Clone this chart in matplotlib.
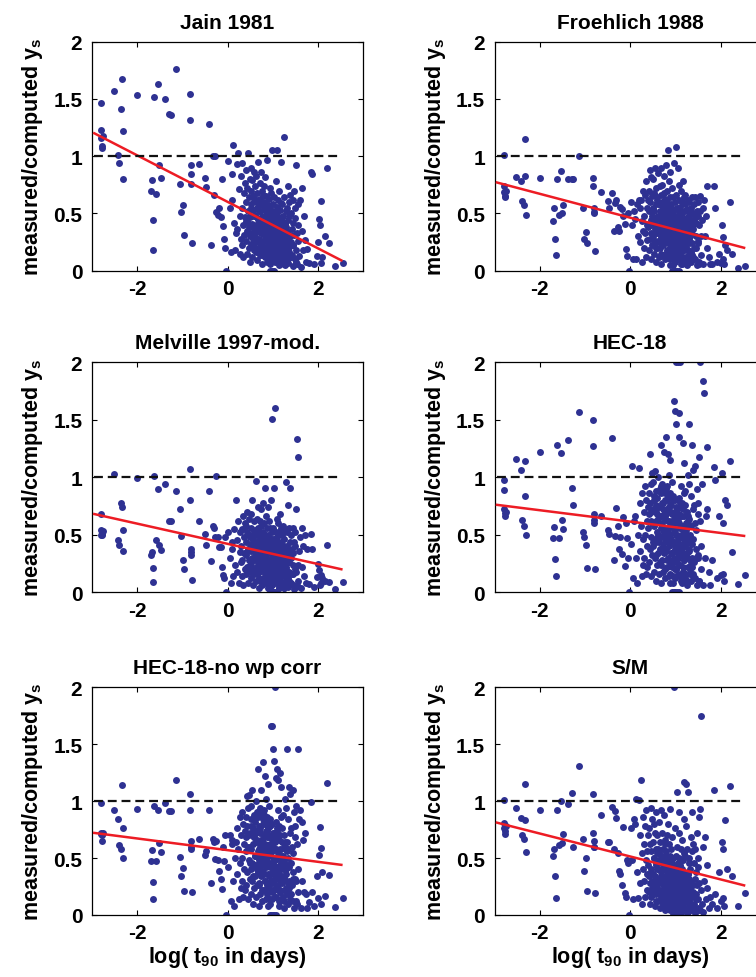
import matplotlib
matplotlib.use('Agg')
import matplotlib.pyplot as plt

plt.rcParams['font.family'] = ['Liberation Sans', 'DejaVu Sans']
plt.rcParams['font.weight'] = 'bold'
plt.rcParams['mathtext.fontset'] = 'custom'
plt.rcParams['mathtext.rm'] = 'Liberation Sans:bold'
plt.rcParams['mathtext.it'] = 'Liberation Sans:bold'
plt.rcParams['mathtext.bf'] = 'Liberation Sans:bold'
plt.rcParams['mathtext.default'] = 'rm'
plt.rcParams['axes.unicode_minus'] = False

# log(t90) values, shared by all six panels
x_left = [-2.80, -2.80, -2.79, -2.78, -2.77, -2.76, -2.52, -2.42, -2.40, -2.35, -2.33, -2.32, -2.31,
          -2.00, -1.70, -1.68, -1.66, -1.64, -1.62, -1.58, -1.54, -1.52, -1.48, -1.38, -1.30, -1.26,
          -1.13, -1.05, -1.02, -0.98, -0.96, -0.82, -0.82, -0.81, -0.80, -0.80, -0.79, -0.64, -0.50,
          -0.48, -0.40, -0.37, -0.33, -0.31, -0.28, -0.25, -0.22, -0.18, -0.15, -0.12, -0.10, -0.08,
          -0.05, -0.03]
x_dense = [0.02, 0.05, 0.07, 0.09,
           0.11, 0.13, 0.15, 0.17, 0.19,
           0.21, 0.22, 0.24, 0.25, 0.27, 0.28, 0.29,
           0.30, 0.31, 0.32, 0.33, 0.34, 0.35, 0.36, 0.37, 0.38, 0.39,
           0.40, 0.41, 0.41, 0.42, 0.43, 0.44, 0.44, 0.45, 0.46, 0.47, 0.47, 0.48, 0.49, 0.49,
           0.50, 0.51, 0.51, 0.52, 0.53, 0.53, 0.54, 0.55, 0.55, 0.56, 0.57, 0.57, 0.58, 0.58, 0.59, 0.59,
           0.60, 0.60, 0.61, 0.62, 0.62, 0.63, 0.64, 0.64, 0.65, 0.65, 0.66, 0.67, 0.67, 0.68, 0.68, 0.69, 0.69,
           0.70, 0.70, 0.71, 0.71, 0.72, 0.73, 0.73, 0.74, 0.74, 0.75, 0.75, 0.76, 0.77, 0.77, 0.78, 0.78, 0.79, 0.79,
           0.80, 0.80, 0.81, 0.81, 0.82, 0.82, 0.83, 0.83, 0.84, 0.84, 0.85, 0.85, 0.86, 0.86, 0.87, 0.87, 0.88, 0.89, 0.89,
           0.90, 0.90, 0.91, 0.91, 0.92, 0.92, 0.93, 0.93, 0.94, 0.94, 0.95, 0.95, 0.96, 0.96, 0.97, 0.97, 0.98, 0.98, 0.99, 0.99,
           1.00, 1.00, 1.01, 1.01, 1.02, 1.02, 1.03, 1.03, 1.04, 1.04, 1.05, 1.05, 1.06, 1.06, 1.07, 1.07, 1.08, 1.08, 1.09, 1.09,
           1.10, 1.10, 1.11, 1.11, 1.12, 1.13, 1.13, 1.14, 1.14, 1.15, 1.15, 1.16, 1.17, 1.17, 1.18, 1.18, 1.19, 1.19,
           1.20, 1.20, 1.21, 1.22, 1.22, 1.23, 1.24, 1.24, 1.25, 1.26, 1.26, 1.27, 1.28, 1.28, 1.29, 1.29,
           1.30, 1.31, 1.31, 1.32, 1.33, 1.34, 1.34, 1.35, 1.36, 1.36, 1.37, 1.38, 1.39, 1.39,
           1.40, 1.41, 1.42, 1.43, 1.44, 1.44, 1.45, 1.46, 1.47, 1.48, 1.49, 1.49,
           1.50, 1.51, 1.52, 1.53, 1.54, 1.55, 1.56, 1.57, 1.58,
           1.60, 1.62, 1.64, 1.65, 1.67, 1.69,
           1.71, 1.74, 1.77]
x_right = [1.80, 1.85, 1.88, 1.92, 1.97, 2.00, 2.03, 2.05, 2.06, 2.08, 2.10, 2.15, 2.20, 2.25, 2.38, 2.55]
x_core = [0.46, 0.50, 0.53, 0.56, 0.58, 0.61, 0.63, 0.65, 0.67, 0.69,
          0.70, 0.72, 0.73, 0.75, 0.76, 0.78, 0.79, 0.81, 0.82, 0.83,
          0.84, 0.85, 0.86, 0.87, 0.88, 0.89, 0.90, 0.91, 0.92, 0.93,
          0.94, 0.95, 0.96, 0.97, 0.98, 0.99, 1.00, 1.01, 1.02, 1.03,
          1.04, 1.05, 1.06, 1.07, 1.08, 1.09, 1.10, 1.11, 1.12, 1.13,
          1.14, 1.15, 1.16, 1.17, 1.18, 1.19, 1.20, 1.21, 1.22, 1.23,
          1.24, 1.25, 1.26, 1.27, 1.28, 1.29, 1.30, 1.31, 1.32, 1.33,
          0.74, 0.80, 0.88, 0.93, 0.97, 1.02, 1.06, 1.11, 1.16, 1.25,
          0.68, 0.77, 0.85, 0.91, 0.99, 1.04, 1.13, 1.19, 1.28, 1.36,
          0.60, 0.71, 0.83, 0.95, 1.08, 1.21, 1.34, 1.40, 1.45, 1.52]
log_t90 = x_left + x_dense + x_right + x_core

# measured/computed ys for each method (left part, dense cloud, right part, core)
y_jain = [1.16, 1.46, 1.23, 1.09, 1.07, 1.18, 1.57, 1.01, 0.94, 1.41, 1.67, 1.22, 0.80,
          1.53, 0.70, 0.79, 0.44, 0.18, 1.52, 0.67, 1.63, 0.92, 0.81, 1.50, 1.37, 1.36,
          1.76, 0.76, 0.51, 0.57, 0.31, 1.54, 1.32, 0.92, 0.84, 0.76, 0.24, 0.93, 0.81,
          0.73, 1.28, 0.22, 1.00, 0.66, 1.00, 0.51, 0.49, 0.55, 0.47, 0.80, 0.39, 0.28, 0.20, 0.00,
          0.96, 0.55, 0.16, 0.84,
          0.62, 1.10, 0.42, 0.18, 0.33,
          0.93, 0.36, 1.03, 0.71, 0.15, 0.48, 0.28,
          0.83, 0.55, 0.22, 0.94, 0.40, 0.12, 0.68, 0.31, 0.77, 0.47,
          0.60, 0.26, 0.88, 0.43, 0.15, 0.72, 0.35, 1.03, 0.52, 0.20, 0.64, 0.38, 0.08, 0.80,
          0.47, 0.70, 0.23, 0.90, 0.33, 0.58, 0.12, 0.79, 0.41, 0.65, 0.28, 0.53, 0.18, 0.86, 0.37, 0.61,
          0.30, 0.74, 0.49, 0.16, 0.62, 0.40, 0.83, 0.25, 0.55, 0.09, 0.68, 0.35, 0.45, 0.95, 0.20, 0.58, 0.42,
          0.52, 0.28, 0.77, 0.38, 0.14, 0.63, 0.45, 0.86, 0.22, 0.57, 0.33, 0.70, 0.06, 0.48, 0.26, 0.66, 0.40, 0.18,
          0.36, 0.60, 0.21, 0.74, 0.44, 0.12, 0.53, 0.30, 0.82, 0.40, 0.17, 0.65, 0.27, 0.48, 0.97, 0.34, 0.08, 0.57, 0.24,
          0.42, 0.19, 0.63, 0.31, 0.50, 0.10, 0.72, 0.26, 0.00, 0.38, 0.55, 0.15, 0.45, 0.33, 0.68, 0.22, 0.00, 0.40, 1.05, 0.28,
          0.35, 0.00, 0.58, 0.20, 0.46, 0.13, 0.00, 0.30, 0.64, 0.40, 0.24, 0.52, 0.08, 0.36, 0.78, 0.18, 0.44, 0.27, 1.05, 0.56,
          0.29, 0.48, 0.14, 0.38, 0.62, 0.22, 0.05, 0.44, 0.33, 0.70, 0.18, 0.53, 0.26, 0.40, 0.10, 0.59, 0.35, 0.95,
          0.43, 0.20, 0.58, 0.31, 0.09, 0.48, 0.25, 1.17, 0.37, 0.15, 0.64, 0.28, 0.42, 0.05, 0.52, 0.33,
          0.38, 0.16, 0.55, 0.27, 0.44, 0.07, 0.74, 0.33, 0.21, 0.60, 0.48, 0.12, 0.30, 0.66,
          0.25, 0.50, 0.14, 0.36, 0.62, 0.04, 0.42, 0.22, 0.70, 0.31, 0.10, 0.55,
          0.46, 0.18, 0.92, 0.33, 0.06, 0.58, 0.26, 0.40, 0.13,
          0.62, 0.03, 0.35, 0.72, 0.18, 0.48,
          0.27, 0.08, 0.19,
          0.07, 0.86, 0.84, 0.06, 0.13, 0.25, 0.45, 0.40, 0.61, 0.07, 0.12, 0.30, 0.90, 0.24, 0.04, 0.07,
          0.42, 0.30, 0.55, 0.22, 0.48, 0.35, 0.60, 0.27, 0.45, 0.18,
          0.38, 0.52, 0.25, 0.44, 0.14, 0.58, 0.32, 0.47, 0.20, 0.36,
          0.55, 0.28, 0.41, 0.12, 0.50, 0.33, 0.24, 0.46, 0.16, 0.39,
          0.30, 0.52, 0.20, 0.42, 0.10, 0.36, 0.26, 0.48, 0.15, 0.34,
          0.44, 0.22, 0.30, 0.12, 0.40, 0.28, 0.50, 0.18, 0.34, 0.08,
          0.38, 0.24, 0.46, 0.14, 0.32, 0.20, 0.42, 0.10, 0.28, 0.36,
          0.18, 0.30, 0.06, 0.26, 0.40, 0.14, 0.22, 0.34, 0.10, 0.28,
          0.34, 0.58, 0.46, 0.22, 0.28, 0.16, 0.38, 0.24, 0.12, 0.20,
          0.62, 0.40, 0.30, 0.54, 0.18, 0.44, 0.32, 0.26, 0.40, 0.16,
          0.48, 0.26, 0.36, 0.06, 0.22, 0.30, 0.18, 0.12, 0.22, 0.08]

y_froehlich = [0.69, 1.01, 0.74, 0.65, 0.64, 0.70, 0.82, 0.78, 0.61, 0.57, 1.15, 0.83, 0.49,
               0.81, 0.43, 0.55, 0.28, 0.14, 0.80, 0.49, 0.87, 0.50, 0.57, 0.80, 0.80, 0.80,
               1.00, 0.55, 0.28, 0.34, 0.24, 0.81, 0.74, 0.55, 0.51, 0.50, 0.17, 0.69, 0.61,
               0.55, 0.68, 0.35, 0.59, 0.62, 0.38, 0.35, 0.56, 0.54, 0.48, 0.41, 0.19, 0.13, 0.50, 0.00,
               0.60, 0.40, 0.10, 0.52,
               0.45, 0.10, 0.58, 0.30, 0.62,
               0.55, 0.25, 0.62, 0.08, 0.43, 0.35, 0.70,
               0.48, 0.20, 0.66, 0.33, 0.12, 0.78, 0.40, 0.55, 0.27, 0.62,
               0.38, 0.70, 0.18, 0.52, 0.88, 0.28, 0.60, 0.44, 0.10, 0.82, 0.33, 0.65, 0.22, 0.48,
               0.55, 0.30, 0.80, 0.42, 0.15, 0.68, 0.36, 0.90, 0.24, 0.58, 0.46, 0.08, 0.72, 0.33, 0.62, 0.20,
               0.40, 0.64, 0.26, 0.85, 0.48, 0.12, 0.58, 0.34, 0.74, 0.20, 0.52, 0.44, 0.90, 0.29, 0.66, 0.06, 0.38,
               0.60, 0.22, 0.47, 0.75, 0.32, 0.14, 0.56, 0.40, 0.83, 0.26, 0.68, 0.36, 0.50, 0.10, 0.63, 0.44, 0.92, 0.30,
               0.28, 0.52, 0.70, 0.16, 0.42, 0.60, 0.34, 1.05, 0.24, 0.48, 0.78, 0.12, 0.56, 0.38, 0.64, 0.20, 0.45, 0.86, 0.05,
               0.35, 0.58, 0.18, 0.44, 0.72, 0.26, 0.00, 0.52, 0.32, 0.64, 0.10, 0.48, 0.94, 0.22, 0.40, 0.00, 0.60, 0.30, 0.54, 0.15,
               0.46, 0.00, 0.28, 0.66, 1.08, 0.38, 0.00, 0.20, 0.55, 0.34, 0.90, 0.12, 0.48, 0.26, 0.00, 0.62, 0.40, 0.18, 0.52, 0.75,
               0.32, 0.56, 0.14, 0.44, 0.70, 0.24, 0.38, 0.06, 0.60, 0.28, 0.50, 0.78, 0.18, 0.42, 0.34, 0.64, 0.10, 0.52,
               0.40, 0.22, 0.58, 0.30, 0.66, 0.12, 0.46, 0.36, 0.05, 0.54, 0.26, 0.62, 0.18, 0.44, 0.33, 0.50,
               0.28, 0.48, 0.60, 0.16, 0.38, 0.55, 0.08, 0.44, 0.24, 0.64, 0.32, 0.50, 0.12, 0.40,
               0.36, 0.58, 0.20, 0.46, 0.10, 0.64, 0.30, 0.42, 0.05, 0.52, 0.26, 0.48,
               0.60, 0.24, 0.40, 0.08, 0.52, 0.65, 0.30, 0.14, 0.44,
               0.55, 0.06, 0.62, 0.30, 0.48, 0.20,
               0.74, 0.12, 0.06,
               0.06, 0.74, 0.55, 0.08, 0.15, 0.07, 0.40, 0.29, 0.10, 0.06, 0.22, 0.18, 0.60, 0.15, 0.02, 0.04,
               0.40, 0.28, 0.52, 0.20, 0.45, 0.33, 0.58, 0.25, 0.42, 0.15,
               0.36, 0.50, 0.22, 0.44, 0.12, 0.55, 0.30, 0.46, 0.18, 0.34,
               0.52, 0.26, 0.40, 0.10, 0.48, 0.32, 0.22, 0.44, 0.14, 0.38,
               0.28, 0.50, 0.18, 0.40, 0.08, 0.34, 0.24, 0.46, 0.13, 0.32,
               0.42, 0.20, 0.30, 0.10, 0.38, 0.26, 0.48, 0.16, 0.35, 0.06,
               0.36, 0.22, 0.44, 0.12, 0.30, 0.18, 0.40, 0.08, 0.26, 0.34,
               0.20, 0.32, 0.06, 0.28, 0.42, 0.14, 0.24, 0.36, 0.10, 0.30,
               0.32, 0.55, 0.44, 0.20, 0.26, 0.14, 0.36, 0.22, 0.10, 0.18,
               0.58, 0.38, 0.28, 0.50, 0.16, 0.42, 0.30, 0.24, 0.38, 0.14,
               0.46, 0.24, 0.34, 0.05, 0.20, 0.28, 0.16, 0.10, 0.20, 0.06]

y_melville = [0.50, 0.68, 0.54, 0.51, 0.50, 0.53, 1.03, 0.45, 0.41, 0.78, 0.74, 0.54, 0.36,
              0.99, 0.32, 0.35, 0.21, 0.09, 1.01, 0.45, 0.90, 0.41, 0.37, 0.94, 0.62, 0.62,
              0.88, 0.72, 0.49, 0.28, 0.20, 1.07, 0.80, 0.38, 0.35, 0.32, 0.11, 0.62, 0.51,
              0.41, 0.88, 0.27, 0.58, 0.56, 0.48, 1.01, 0.48, 0.39, 0.39, 0.22, 0.15, 0.12, 0.48, 0.00,
              0.52, 0.30, 0.08, 0.44,
              0.38, 0.14, 0.55, 0.24, 0.80,
              0.45, 0.18, 0.62, 0.08, 0.35, 0.52, 0.26,
              0.40, 0.14, 0.55, 0.28, 0.06, 0.66, 0.34, 0.48, 0.20, 0.60,
              0.32, 0.58, 0.16, 0.44, 0.70, 0.22, 0.52, 0.38, 0.08, 0.64, 0.28, 0.50, 0.18, 0.42,
              0.48, 0.24, 0.68, 0.36, 0.12, 0.56, 0.30, 0.80, 0.20, 0.46, 0.40, 0.06, 0.62, 0.28, 0.52, 0.16,
              0.34, 0.54, 0.20, 0.97, 0.42, 0.10, 0.50, 0.28, 0.64, 0.16, 0.44, 0.36, 0.74, 0.24, 0.56, 0.04, 0.32,
              0.50, 0.18, 0.40, 0.62, 0.26, 0.10, 0.46, 0.34, 0.72, 0.22, 0.58, 0.30, 0.42, 0.06, 0.52, 0.36, 0.78, 0.24,
              0.22, 0.44, 0.60, 0.12, 0.36, 0.50, 0.28, 0.91, 0.18, 0.40, 0.66, 0.08, 0.48, 0.32, 0.56, 0.14, 0.38, 0.74, 0.04,
              0.28, 0.50, 0.14, 0.38, 0.62, 0.20, 0.00, 0.44, 0.26, 0.56, 0.08, 0.40, 0.80, 0.18, 0.34, 0.00, 0.52, 1.51, 0.46, 0.12,
              0.38, 0.00, 0.22, 0.56, 0.91, 0.30, 0.00, 0.16, 0.46, 0.28, 1.60, 0.10, 0.40, 0.20, 0.00, 0.52, 0.34, 0.14, 0.44, 0.64,
              0.26, 0.48, 0.10, 0.36, 0.60, 0.18, 0.32, 0.04, 0.52, 0.22, 0.42, 0.68, 0.14, 0.36, 0.28, 0.56, 0.08, 0.44,
              0.34, 0.18, 0.50, 0.24, 0.58, 0.08, 0.40, 0.30, 0.04, 0.46, 0.20, 0.54, 0.14, 0.38, 0.26, 0.96,
              0.22, 0.40, 0.52, 0.12, 0.32, 0.76, 0.05, 0.36, 0.18, 0.56, 0.26, 0.44, 0.91, 0.34,
              0.30, 0.50, 0.16, 0.38, 0.06, 0.56, 0.24, 0.34, 0.03, 0.44, 0.20, 0.40,
              0.52, 0.18, 0.72, 0.06, 1.33, 1.18, 0.24, 0.10, 0.36,
              0.48, 0.04, 0.56, 0.22, 0.40, 0.14,
              0.50, 0.08, 0.38,
              0.07, 0.51, 0.38, 0.05, 0.13, 0.25, 0.19, 0.06, 0.15, 0.08, 0.12, 0.10, 0.41, 0.09, 0.03, 0.09,
              0.36, 0.24, 0.48, 0.18, 0.42, 0.30, 0.52, 0.22, 0.38, 0.12,
              0.32, 0.46, 0.20, 0.40, 0.10, 0.50, 0.28, 0.42, 0.16, 0.30,
              0.48, 0.22, 0.36, 0.08, 0.44, 0.28, 0.18, 0.40, 0.12, 0.34,
              0.24, 0.46, 0.14, 0.36, 0.06, 0.30, 0.20, 0.42, 0.10, 0.28,
              0.38, 0.16, 0.26, 0.08, 0.34, 0.22, 0.44, 0.12, 0.30, 0.04,
              0.32, 0.18, 0.40, 0.10, 0.26, 0.14, 0.36, 0.06, 0.22, 0.30,
              0.16, 0.28, 0.04, 0.24, 0.38, 0.12, 0.20, 0.32, 0.08, 0.26,
              0.28, 0.50, 0.40, 0.16, 0.22, 0.10, 0.32, 0.18, 0.08, 0.14,
              0.54, 0.34, 0.24, 0.46, 0.12, 0.38, 0.26, 0.20, 0.34, 0.10,
              0.42, 0.20, 0.30, 0.04, 0.16, 0.24, 0.12, 0.08, 0.16, 0.05]

y_hec18 = [0.72, 0.98, 0.89, 0.69, 0.66, 0.70, 1.16, 1.06, 0.63, 0.58, 1.14, 0.84, 0.50,
           1.22, 0.47, 0.57, 0.29, 0.14, 1.28, 0.47, 1.21, 0.63, 0.55, 1.32, 0.91, 0.76,
           1.57, 0.52, 0.48, 0.41, 0.21, 1.50, 1.27, 0.68, 0.63, 0.60, 0.20, 0.66, 0.54,
           0.51, 1.34, 0.28, 0.49, 0.73, 0.58, 0.38, 0.48, 0.33, 0.65, 0.23, 0.60, 0.47, 0.30, 0.00,
           0.42, 1.10, 0.12, 0.62,
           0.66, 0.30, 0.08, 0.50, 1.08,
           0.78, 0.36, 0.58, 0.14, 0.86, 0.46, 0.24,
           0.70, 0.30, 0.92, 0.50, 0.16, 0.80, 0.40, 0.62, 0.22, 0.74,
           0.56, 0.86, 0.26, 0.68, 1.20, 0.38, 0.78, 0.14, 0.94, 0.48, 0.70, 1.04, 0.32, 0.60,
           0.72, 0.40, 0.96, 0.58, 0.18, 0.84, 0.46, 1.05, 0.30, 0.76, 0.62, 0.10, 0.88, 0.44, 0.68, 0.24,
           0.52, 0.82, 0.34, 1.00, 0.64, 0.16, 0.74, 0.44, 0.90, 0.26, 0.66, 0.56, 1.28, 0.38, 0.86, 0.08, 0.48,
           0.78, 0.28, 0.60, 0.94, 0.42, 0.18, 0.72, 0.52, 1.22, 0.34, 0.88, 0.46, 0.66, 0.12, 0.80, 0.56, 1.35, 0.38,
           0.36, 0.68, 0.92, 0.22, 0.54, 0.80, 0.44, 1.20, 0.30, 0.62, 1.02, 0.14, 0.74, 0.50, 0.86, 0.26, 0.58, 1.15, 0.08,
           0.46, 0.76, 0.24, 0.58, 0.96, 0.34, 0.00, 0.68, 0.42, 0.84, 0.14, 0.62, 1.66, 0.30, 0.52, 0.00, 0.80, 1.58, 0.70, 0.20,
           0.60, 0.00, 0.38, 2.00, 1.46, 0.50, 0.00, 0.28, 0.72, 0.44, 2.00, 0.16, 0.64, 0.34, 0.00, 0.82, 1.56, 0.24, 0.68, 1.35,
           0.42, 0.74, 2.00, 0.56, 0.92, 0.32, 0.50, 0.08, 0.78, 0.36, 0.66, 1.30, 0.22, 0.58, 0.46, 0.86, 0.14, 1.12,
           0.52, 0.28, 0.76, 0.40, 0.88, 0.16, 0.60, 0.46, 0.06, 0.70, 0.34, 1.02, 0.22, 0.58, 0.44, 0.94,
           0.36, 0.64, 1.46, 0.20, 0.50, 0.84, 0.10, 0.58, 0.30, 1.28, 0.42, 0.72, 0.14, 1.06,
           0.46, 0.76, 0.26, 0.60, 0.12, 1.10, 0.38, 0.54, 0.06, 0.90, 0.32, 0.68,
           0.78, 0.30, 1.18, 0.10, 0.62, 2.00, 0.40, 0.20, 0.94,
           1.84, 0.06, 1.73, 0.30, 0.66, 1.26,
           0.72, 0.18, 0.06,
           0.28, 1.09, 0.98, 0.12, 0.66, 0.15, 1.04, 0.16, 0.60, 0.10, 0.80, 0.76, 1.14, 0.35, 0.07, 0.15,
           0.62, 0.44, 0.80, 0.32, 0.70, 0.50, 0.88, 0.38, 0.66, 0.24,
           0.56, 0.78, 0.36, 0.68, 0.20, 0.86, 0.48, 0.72, 0.28, 0.54,
           0.84, 0.40, 0.62, 0.16, 0.76, 0.50, 0.34, 0.70, 0.22, 0.58,
           0.44, 0.80, 0.28, 0.64, 0.12, 0.54, 0.38, 0.74, 0.20, 0.50,
           0.68, 0.30, 0.46, 0.14, 0.60, 0.40, 0.78, 0.24, 0.56, 0.10,
           0.58, 0.34, 0.72, 0.18, 0.48, 0.28, 0.66, 0.12, 0.42, 0.54,
           0.30, 0.50, 0.10, 0.44, 0.66, 0.22, 0.38, 0.58, 0.16, 0.46,
           0.52, 0.90, 0.70, 0.34, 0.42, 0.20, 0.60, 0.36, 0.18, 0.30,
           0.92, 0.64, 0.46, 0.82, 0.26, 0.68, 0.48, 0.40, 0.62, 0.22,
           0.74, 0.38, 0.56, 0.08, 0.32, 0.44, 0.26, 0.16, 0.30, 0.10]

y_hec18_nowp = [0.72, 0.98, 0.71, 0.65, 0.70, 0.72, 0.92, 0.84, 0.61, 0.58, 1.14, 0.76, 0.50,
                0.93, 0.47, 0.57, 0.29, 0.14, 0.96, 0.47, 0.92, 0.63, 0.55, 0.98, 0.91, 0.91,
                1.18, 0.51, 0.34, 0.41, 0.21, 1.06, 0.92, 0.65, 0.58, 0.60, 0.20, 0.67, 0.53,
                0.56, 0.92, 0.28, 0.67, 0.64, 0.49, 0.65, 0.48, 0.39, 0.32, 0.23, 0.60, 0.47, 0.70, 0.00,
                0.42, 0.70, 0.12, 0.62,
                0.66, 0.30, 0.08, 0.50, 0.64,
                0.76, 0.36, 0.58, 0.14, 0.86, 0.46, 0.24,
                0.70, 0.30, 0.90, 0.50, 0.16, 0.80, 0.40, 0.62, 0.22, 0.74,
                0.56, 0.86, 0.26, 0.68, 1.04, 0.38, 0.78, 0.14, 0.94, 0.48, 0.70, 1.05, 0.32, 0.60,
                0.72, 0.40, 0.96, 0.58, 0.18, 0.84, 0.46, 1.10, 0.30, 0.76, 0.62, 0.10, 0.88, 0.44, 0.68, 0.24,
                0.52, 0.82, 0.34, 1.00, 0.64, 0.16, 0.74, 0.44, 0.90, 0.26, 0.66, 0.56, 1.28, 0.38, 0.86, 0.08, 0.48,
                0.78, 0.28, 0.60, 0.94, 0.42, 0.18, 0.72, 0.52, 1.10, 0.34, 0.88, 0.46, 0.66, 0.12, 0.80, 0.56, 1.34, 0.38,
                0.36, 0.68, 0.92, 0.22, 0.54, 0.80, 0.44, 1.22, 0.30, 0.62, 1.02, 0.14, 0.74, 0.50, 0.86, 0.26, 0.58, 1.15, 0.08,
                0.46, 0.76, 0.24, 0.58, 0.96, 0.34, 0.00, 0.68, 0.42, 0.84, 0.14, 0.62, 1.66, 0.30, 0.52, 0.00, 0.80, 1.66, 0.70, 0.20,
                0.60, 0.00, 0.38, 1.46, 1.35, 0.50, 0.00, 0.28, 0.72, 0.44, 2.00, 0.16, 0.64, 0.34, 0.00, 0.82, 1.20, 0.24, 0.68, 1.28,
                0.42, 0.74, 1.18, 0.56, 0.92, 0.32, 0.50, 0.08, 0.78, 0.36, 0.66, 1.25, 0.22, 0.58, 0.46, 0.86, 0.14, 1.12,
                0.52, 0.28, 0.76, 0.40, 0.88, 0.16, 0.60, 0.46, 0.06, 0.70, 0.34, 1.02, 0.22, 0.58, 0.44, 0.94,
                0.36, 0.64, 1.46, 0.20, 0.50, 0.84, 0.10, 0.58, 0.30, 1.12, 0.42, 0.72, 0.14, 1.06,
                0.46, 0.76, 0.26, 0.60, 0.12, 1.10, 0.38, 0.54, 0.06, 0.90, 0.32, 0.68,
                0.78, 0.30, 0.96, 0.10, 0.62, 1.46, 0.40, 0.20, 0.84,
                0.92, 0.06, 0.82, 0.30, 0.66, 0.20,
                0.72, 0.18, 0.06,
                0.11, 0.99, 0.20, 0.08, 0.34, 0.15, 0.53, 0.77, 0.59, 0.10, 0.38, 0.17, 1.16, 0.35, 0.07, 0.15,
                0.60, 0.46, 0.78, 0.34, 0.68, 0.52, 0.86, 0.40, 0.64, 0.26,
                0.58, 0.76, 0.38, 0.66, 0.22, 0.84, 0.50, 0.70, 0.30, 0.52,
                0.82, 0.42, 0.60, 0.18, 0.74, 0.52, 0.36, 0.68, 0.24, 0.56,
                0.46, 0.78, 0.30, 0.62, 0.14, 0.56, 0.40, 0.72, 0.22, 0.48,
                0.66, 0.32, 0.48, 0.16, 0.58, 0.42, 0.76, 0.26, 0.54, 0.12,
                0.56, 0.36, 0.70, 0.20, 0.46, 0.30, 0.64, 0.14, 0.44, 0.52,
                0.32, 0.48, 0.12, 0.42, 0.64, 0.24, 0.40, 0.56, 0.18, 0.44,
                0.50, 0.88, 0.68, 0.36, 0.44, 0.22, 0.58, 0.38, 0.20, 0.32,
                0.90, 0.62, 0.48, 0.80, 0.28, 0.66, 0.50, 0.42, 0.60, 0.24,
                0.72, 0.40, 0.54, 0.10, 0.34, 0.42, 0.28, 0.18, 0.32, 0.12]

y_sm = [0.76, 1.01, 0.81, 0.71, 0.74, 0.78, 0.94, 0.85, 0.70, 0.67, 1.15, 0.83, 0.55,
        0.92, 0.52, 0.58, 0.34, 0.15, 0.92, 0.61, 1.00, 0.63, 0.71, 0.97, 1.07, 0.60,
        1.31, 0.67, 0.39, 0.50, 0.21, 1.06, 0.72, 0.65, 0.60, 0.60, 0.19, 0.88, 0.64,
        0.64, 0.95, 0.58, 0.91, 0.85, 0.54, 0.39, 0.36, 0.26, 0.77, 0.19, 0.16, 0.48, 0.46, 0.00,
        0.76, 0.48, 0.14, 0.84,
        0.80, 1.02, 0.38, 0.15, 1.01,
        0.70, 0.28, 1.18, 0.54, 0.10, 0.86, 0.40,
        0.62, 0.30, 0.78, 0.16, 0.48, 0.92, 0.22, 0.56, 0.36, 0.70,
        0.44, 0.20, 0.76, 0.34, 0.10, 0.62, 0.28, 0.94, 0.40, 0.16, 0.56, 0.30, 0.84, 0.24,
        0.36, 0.64, 0.18, 0.80, 0.28, 0.50, 0.08, 0.72, 0.34, 0.58, 0.22, 0.46, 0.12, 0.90, 0.30, 0.54,
        0.26, 0.70, 0.40, 0.12, 0.58, 0.32, 0.82, 0.20, 0.48, 0.06, 0.64, 0.28, 0.38, 0.92, 0.16, 0.52, 0.34,
        0.46, 0.22, 0.72, 0.32, 0.10, 0.58, 0.40, 0.88, 0.18, 0.52, 0.26, 0.66, 0.04, 0.42, 0.20, 0.62, 0.34, 0.14,
        0.30, 0.56, 0.16, 0.70, 0.38, 0.08, 0.48, 0.24, 0.80, 0.34, 0.12, 0.62, 0.22, 0.44, 0.93, 0.28, 0.04, 0.52, 0.18,
        0.36, 0.14, 0.58, 0.26, 0.46, 0.06, 0.68, 0.20, 0.00, 0.32, 0.50, 0.10, 0.42, 0.28, 2.00, 0.18, 0.00, 0.36, 0.76, 0.22,
        0.30, 0.00, 0.52, 0.16, 0.40, 0.08, 0.00, 0.24, 0.60, 1.08, 0.20, 0.46, 0.04, 0.30, 0.72, 0.14, 0.38, 0.22, 0.90, 0.50,
        0.24, 0.44, 0.10, 0.34, 0.58, 0.18, 0.02, 0.40, 0.28, 0.66, 0.14, 0.48, 0.20, 0.36, 0.06, 0.54, 0.30, 0.84,
        0.38, 1.17, 0.52, 0.26, 0.06, 1.15, 0.20, 0.78, 0.32, 0.12, 0.58, 1.08, 0.36, 0.03, 0.46, 0.28,
        0.32, 0.12, 0.50, 0.22, 0.40, 0.04, 0.68, 0.28, 0.16, 0.56, 0.90, 0.08, 0.26, 0.62,
        0.20, 0.46, 0.10, 0.32, 0.58, 0.02, 0.38, 0.18, 0.72, 0.26, 0.06, 0.50,
        0.42, 0.14, 0.86, 0.28, 0.04, 0.93, 0.22, 1.75, 0.10,
        0.60, 0.03, 0.30, 0.68, 0.14, 0.44,
        0.24, 0.06, 0.16,
        0.10, 1.10, 0.18, 0.06, 0.38, 0.12, 0.64, 0.15, 0.58, 0.08, 0.83, 0.40, 1.13, 0.34, 0.08, 0.19,
        0.38, 0.26, 0.50, 0.18, 0.44, 0.30, 0.55, 0.22, 0.40, 0.12,
        0.34, 0.48, 0.20, 0.40, 0.10, 0.52, 0.28, 0.42, 0.16, 0.30,
        0.46, 0.22, 0.36, 0.08, 0.42, 0.26, 0.16, 0.38, 0.10, 0.32,
        0.24, 0.44, 0.14, 0.34, 0.04, 0.28, 0.18, 0.40, 0.08, 0.26,
        0.36, 0.14, 0.24, 0.06, 0.32, 0.20, 0.42, 0.10, 0.28, 0.03,
        0.30, 0.16, 0.38, 0.08, 0.24, 0.12, 0.34, 0.04, 0.20, 0.28,
        0.14, 0.26, 0.03, 0.22, 0.36, 0.10, 0.18, 0.30, 0.06, 0.24,
        0.26, 0.48, 0.38, 0.14, 0.20, 0.08, 0.30, 0.16, 0.06, 0.12,
        0.52, 0.32, 0.22, 0.44, 0.10, 0.36, 0.24, 0.18, 0.32, 0.08,
        0.40, 0.18, 0.28, 0.03, 0.14, 0.22, 0.10, 0.06, 0.14, 0.04]

titles = ['Jain 1981', 'Froehlich 1988', 'Melville 1997-mod.', 'HEC-18', 'HEC-18-no wp corr', 'S/M']
ratios = [y_jain, y_froehlich, y_melville, y_hec18, y_hec18_nowp, y_sm]

# regression line end values for each panel
fit_x = [-2.95, 2.52]
fit_y = [[1.20, 0.09], [0.77, 0.20], [0.68, 0.20], [0.76, 0.49], [0.72, 0.44], [0.81, 0.26]]

dot_color = '#2E3192'
line_red = '#ED1C24'
fs = 15

fig = plt.figure(figsize=(7.56, 9.78), dpi=100)
lefts = [0.1217, 0.6544]
rows = [(0.7222, 0.2342), (0.3934, 0.2352), (0.0634, 0.2331)]

for i in range(6):
    r, c = i // 2, i % 2
    ax = fig.add_axes([lefts[c], rows[r][0], 0.3585, rows[r][1]])
    ax.plot(log_t90, ratios[i], 'o', color=dot_color, markersize=5.0, markeredgewidth=0, zorder=2)
    ax.plot(fit_x, fit_y[i], '-', color=line_red, linewidth=1.8, zorder=3)
    ax.plot(fit_x, [1, 1], '--', color='#111111', linewidth=1.6, dashes=(4, 2.2), zorder=4)
    ax.set_xlim(-3, 3)
    ax.set_ylim(0, 2)
    ax.set_xticks([-2, 0, 2])
    ax.set_yticks([0, 0.5, 1, 1.5, 2])
    ax.set_yticklabels(['0', '0.5', '1', '1.5', '2'])
    ax.tick_params(direction='in', top=True, right=True, length=3.5, width=0.8, labelsize=fs)
    ax.tick_params(axis='x', pad=6)
    ax.tick_params(axis='y', pad=7)
    for s in ax.spines.values():
        s.set_linewidth(0.9)
    ax.set_title(titles[i], fontsize=fs, fontweight='bold', pad=10)
    ax.set_ylabel('measured/computed y$_{s}$', fontsize=15.5, fontweight='bold', labelpad=6)
    if r == 2:
        ax.set_xlabel('log( t$_{90}$ in days)', fontsize=15.5, fontweight='bold', labelpad=1)

fig.savefig('out.png', dpi=100)
